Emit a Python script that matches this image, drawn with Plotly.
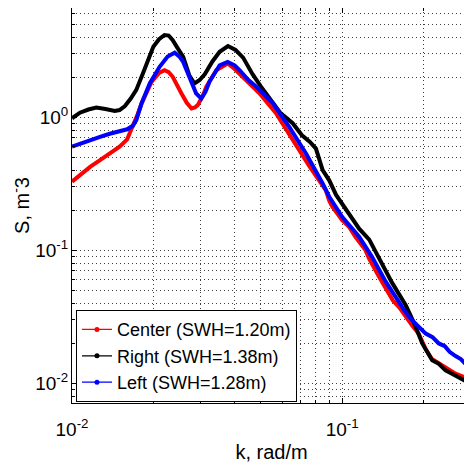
"""Widma falowe S(k) dla trzech boi: Center, Right, Left (log-log)."""

import numpy as np
import plotly.graph_objects as go

# Center (SWH=1.20m)
k_center = [0.0100, 0.0108, 0.0117, 0.0127, 0.0138, 0.0150, 0.0160, 0.0168, 0.0175,
            0.0181, 0.0197, 0.0210, 0.0220, 0.0228, 0.0236, 0.0254, 0.0266, 0.0277,
            0.0285, 0.0292, 0.0305, 0.0314, 0.0342, 0.0377, 0.0400, 0.0428, 0.0494,
            0.0569, 0.0656, 0.0755, 0.0870, 0.0896, 0.0920, 0.1000, 0.1060, 0.1120,
            0.1220, 0.1260, 0.1370, 0.1410, 0.1540, 0.1630, 0.1720, 0.1820, 0.1920,
            0.2040, 0.2150, 0.2280, 0.2450, 0.2630, 0.2800, 0.2986]
s_center = [0.327, 0.375, 0.424, 0.475, 0.533, 0.600, 0.680, 0.845, 1.05,
            1.27, 1.84, 2.15, 2.25, 2.18, 2.01, 1.51, 1.28, 1.16,
            1.18, 1.23, 1.45, 1.69, 2.25, 2.53, 2.30, 2.01, 1.51,
            1.07, 0.67, 0.43, 0.283, 0.235, 0.212, 0.168, 0.150, 0.126,
            0.100, 0.086, 0.063, 0.057, 0.042, 0.037, 0.0316, 0.0270, 0.0236,
            0.0180, 0.0152, 0.0141, 0.0128, 0.0118, 0.0112, 0.0105]

# Right (SWH=1.38m)
k_right = [0.0100, 0.0107, 0.0115, 0.0123, 0.0133, 0.0144, 0.0150, 0.0157, 0.0165,
           0.0173, 0.0183, 0.0192, 0.0200, 0.0210, 0.0220, 0.0228, 0.0236, 0.0246,
           0.0258, 0.0272, 0.0284, 0.0297, 0.0310, 0.0331, 0.0352, 0.0378, 0.0403,
           0.0430, 0.0466, 0.0500, 0.0530, 0.0590, 0.0656, 0.0710, 0.0760, 0.0800,
           0.0847, 0.0896, 0.0950, 0.1000, 0.1060, 0.1156, 0.1260, 0.1370, 0.1530,
           0.1720, 0.1845, 0.1980, 0.2155, 0.2280, 0.2415, 0.2550, 0.2704, 0.2850,
           0.2986]
s_right = [0.98, 1.08, 1.14, 1.18, 1.15, 1.11, 1.13, 1.21, 1.38,
           1.60, 2.13, 2.75, 3.38, 3.85, 4.14, 4.10, 3.78, 3.30,
           2.84, 2.05, 1.79, 1.90, 2.10, 2.62, 3.10, 3.42, 3.20,
           2.80, 2.10, 1.70, 1.45, 1.08, 0.90, 0.73, 0.65, 0.58,
           0.40, 0.335, 0.26, 0.224, 0.189, 0.145, 0.120, 0.086, 0.057,
           0.0385, 0.0285, 0.0199, 0.0149, 0.0140, 0.0125, 0.0118, 0.0111, 0.0104,
           0.0099]

# Left (SWH=1.28m)
k_left = [0.0100, 0.0108, 0.0117, 0.0127, 0.0138, 0.0150, 0.0160, 0.0168, 0.0173,
          0.0181, 0.0194, 0.0211, 0.0226, 0.0240, 0.0250, 0.0258, 0.0272, 0.0288,
          0.0301, 0.0312, 0.0323, 0.0340, 0.0352, 0.0377, 0.0400, 0.0417, 0.0450,
          0.0481, 0.0530, 0.0554, 0.0637, 0.0735, 0.0847, 0.0896, 0.1000, 0.1156,
          0.1290, 0.1450, 0.1620, 0.1720, 0.1815, 0.1920, 0.2040, 0.2160, 0.2280,
          0.2400, 0.2500, 0.2630, 0.2750, 0.2880, 0.2986]
s_left = [0.60, 0.63, 0.67, 0.71, 0.75, 0.78, 0.81, 0.86, 0.95,
          1.27, 1.79, 2.39, 2.85, 3.05, 2.85, 2.60, 2.01, 1.51,
          1.38, 1.55, 1.85, 2.20, 2.45, 2.60, 2.45, 2.25, 1.90,
          1.69, 1.40, 1.27, 0.845, 0.533, 0.317, 0.252, 0.178, 0.126,
          0.089, 0.058, 0.041, 0.034, 0.0298, 0.0265, 0.0236, 0.0222, 0.0199,
          0.0190, 0.0172, 0.0160, 0.0152, 0.0138, 0.0129]

SERIE = [
    ("Center (SWH=1.20m)", k_center, s_center, "#ff0000"),
    ("Right (SWH=1.38m)", k_right, s_right, "#000000"),
    ("Left (SWH=1.28m)", k_left, s_left, "#0000ff"),
]

x_ticki = [0.01, 0.1]
x_etykiety = ["10<sup>-2</sup>", "10<sup>-1</sup>"]
y_ticki = [0.01, 0.1, 1]
y_etykiety = ["10<sup>-2</sup>", "10<sup>-1</sup>", "10<sup>0</sup>"]

FONT = "Arial, Liberation Sans, sans-serif"

fig = go.Figure()
for nazwa, k, s, kolor in SERIE:
    fig.add_trace(go.Scatter(x=k, y=s, mode="lines", showlegend=False,
                             line=dict(color=kolor, width=4)))
for nazwa, k, s, kolor in SERIE:
    # tylko do legendy: cienka linia z kropką
    fig.add_trace(go.Scatter(x=[None], y=[None], mode="lines+markers", name=nazwa,
                             line=dict(color=kolor, width=1.2),
                             marker=dict(color=kolor, size=5)))

osie = dict(
    type="log", automargin=False,
    showline=True, linecolor="black", linewidth=1, mirror="ticks",
    ticks="inside", ticklen=5, tickcolor="black",
    showgrid=True, gridcolor="#404040", griddash="1px,3px", gridwidth=1,
    minor=dict(dtick="D1", showgrid=True, gridcolor="#404040", griddash="1px,3px",
               ticks="inside", ticklen=3, tickcolor="black"),
    tickfont=dict(size=19, color="black"), zeroline=False,
)

# strona ma 8 px marginesu body, więc figura jest o 8 px mniejsza
fig.update_xaxes(range=[-2, np.log10(0.3)], tickvals=x_ticki, ticktext=x_etykiety,
                 ticklabelstandoff=9,
                 title=dict(text="k, rad/m", font=dict(size=20, color="black"), standoff=6),
                 **osie)
fig.update_yaxes(range=[np.log10(0.0071), 0.82], tickvals=y_ticki,
                 ticktext=y_etykiety, ticklabelstandoff=-1,
                 title=dict(text="S, m<sup>-</sup>3", font=dict(size=20, color="black"), standoff=0),
                 **osie)

fig.update_layout(
    width=464, height=457,
    margin=dict(l=64, r=1, t=0, b=62),
    paper_bgcolor="white", plot_bgcolor="white",
    font=dict(family=FONT, color="black"),
    legend=dict(x=0.01, y=0.002, xanchor="left", yanchor="bottom",
                bgcolor="white", bordercolor="black", borderwidth=1,
                font=dict(size=18, color="black"), tracegroupgap=0),
)

fig.write_html("out.html")
